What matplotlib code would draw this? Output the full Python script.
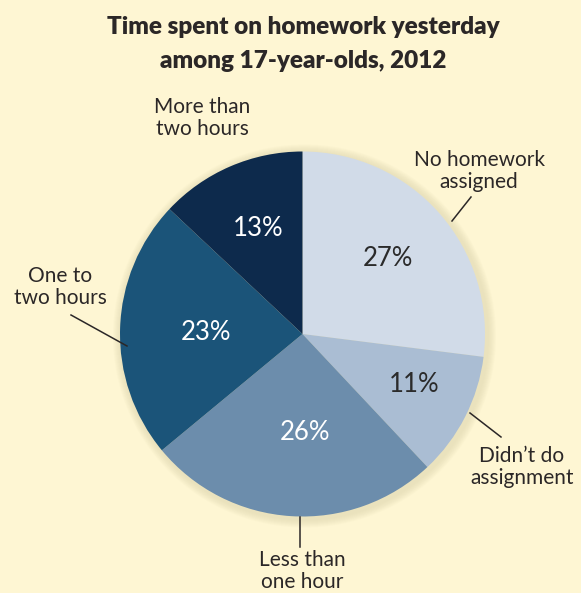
import matplotlib
matplotlib.use('Agg')
import numpy as np
import matplotlib.pyplot as plt
from matplotlib.patches import Circle

labels = ['No homework\nassigned', "Didn\u2019t do\nassignment", 'Less than\none hour',
          'One to\ntwo hours', 'More than\ntwo hours']
shares = [27, 11, 26, 23, 13]
colors = ['#d1dbe8', '#aabdd3', '#6c8dac', '#1b5479', '#0d2a4c']
pct_colors = ['#2b2b2b', '#2b2b2b', 'white', 'white', 'white']

W, H = 581, 593
bg = '#fef6d3'
fig = plt.figure(figsize=(W / 100, H / 100), dpi=100, facecolor=bg)
ax = fig.add_axes([0, 0, 1, 1])
ax.set_xlim(0, W)
ax.set_ylim(0, H)
ax.set_aspect('equal')
ax.axis('off')

cx, cy, r = 302.5, H - 334, 182.5

# soft shadow around the pie
for k in range(8):
    ax.add_patch(Circle((cx + 2, cy - 2), r + 9 - k, color='#d8cfa8', alpha=0.07, lw=0, zorder=1))

wedges, _ = ax.pie(shares, colors=colors, startangle=90, counterclock=False,
                   center=(cx, cy), radius=r, wedgeprops=dict(linewidth=0))
for w in wedges:
    w.set_zorder(2)
ax.set_xlim(0, W)
ax.set_ylim(0, H)

font = 'Lato'
ax.text(303, H - 27, 'Time spent on homework yesterday', ha='center', va='center',
        fontsize=17.5, fontweight='heavy', color='#2b2727', family=font)
ax.text(303, H - 61, 'among 17-year-olds, 2012', ha='center', va='center',
        fontsize=17.5, fontweight='heavy', color='#2b2727', family=font)

# percentage labels
pct_pos = [(388, 259), (414, 384), (305, 433), (206, 332), (258, 228)]
for (px, py), s, c in zip(pct_pos, shares, pct_colors):
    ax.text(px, H - py, f'{s}%', ha='center', va='center', fontsize=18.5, color=c,
            family=font, zorder=3)

# category labels
lab_pos = [(479, 171), (522, 467), (302, 571), (60, 287), (202, 118)]
for (px, py), lab in zip(lab_pos, labels):
    ax.text(px, H - py, lab, ha='center', va='center', fontsize=15, color='#2b2727',
            family=font, linespacing=1.12)

# leader lines
leaders = [((452, 221), (471, 197)), ((470, 413), (501, 437)),
           ((300, 517), (300, 547)), ((127, 346), (71, 315))]
for (x0, y0), (x1, y1) in leaders:
    ax.plot([x0, x1], [H - y0, H - y1], color='#2b2727', lw=1.1, zorder=3)

plt.savefig('out.png', dpi=100, facecolor=bg)
plt.close(fig)
